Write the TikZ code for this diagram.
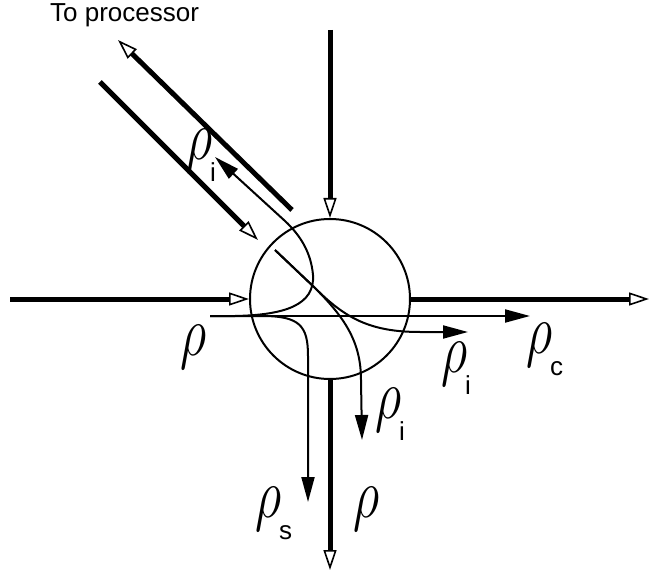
\documentclass[tikz,border=0pt]{standalone}
\usepackage{fontspec}
\setmainfont{Liberation Sans}
\usepackage{graphicx}
\usetikzlibrary{arrows.meta}
\newcommand{\rhoglyph}{\resizebox*{26pt}{44pt}{$\rho$}}
\newcommand{\rhosub}[1]{\rhoglyph\kern-2pt\raisebox{-22pt}{#1}}

\begin{document}
\begin{tikzpicture}[x=1pt,y=-1pt,
    font=\fontsize{26}{28}\selectfont,
    feed/.style={line width=5pt,
      -{Triangle[open,length=20pt,width=13pt,line width=1.6pt]}},
    flow/.style={line width=2pt,
      -{Triangle[length=25pt,width=13pt]}},
    lab/.style={anchor=base west,inner sep=0pt}]
  \useasboundingbox (0,0) rectangle (651,575);
  \node[draw,circle,line width=2pt,minimum size=160pt,inner sep=0pt] (cell) at (330,299) {};
  \coordinate (lin) at (10,299);
  \coordinate (top) at (330,30);
  \coordinate (rout) at (649,299);
  \coordinate (bot) at (330,570);
  \coordinate (din) at (100,82);
  \coordinate (dtip) at (258,240);
  \coordinate (pstart) at (292,210);
  \coordinate (ptip) at (118,40);
  \draw[feed] (lin) -- (cell.west);
  \draw[feed] (top) -- (cell.north);
  \draw[feed] (cell.east) -- (rout);
  \draw[feed] (cell.south) -- (bot);
  \draw[feed] (din) -- (dtip);
  \draw[feed] (pstart) -- (ptip);
  \node[anchor=base west,inner sep=0pt] (tproc) at (50,22) {To processor};
  % incoming stream and its parts
  \coordinate (rin) at (210,316);
  \coordinate (cend) at (530,316);
  \coordinate (iup) at (215,157);
  \coordinate (send) at (308,502);
  \coordinate (dstart) at (275,250);
  \coordinate (iright) at (468,332);
  \coordinate (idown) at (362,440);
  \draw[flow] (rin) -- (cend);
  \draw[flow] (rin) -- (235,316) .. controls (285,315) and (315,305) .. (313,275)
    .. controls (311,252) and (300,235) .. (285,221) -- (iup);
  \draw[flow] (rin) -- (262,316) .. controls (300,316) and (308,326) .. (308,356) -- (send);
  \draw[flow] (dstart) -- (315,288) .. controls (345,318) and (370,332) .. (420,332) -- (iright);
  \draw[flow] (dstart) -- (315,288) .. controls (345,318) and (361,342) .. (361,380) -- (idown);
  \node[lab] (rhoin) at (180,355) {\rhoglyph};
  \node[lab] (rhoiu) at (186,160) {\rhosub{i}};
  \node[lab] (rhoir) at (441,372) {\rhosub{i}};
  \node[lab] (rhoc) at (526,353) {\rhosub{c}};
  \node[lab] (rhoil) at (375,418) {\rhosub{i}};
  \node[lab] (rhos) at (255,517) {\rhosub{s}};
  \node[lab] (rhoout) at (353,517) {\rhoglyph};
\end{tikzpicture}
\end{document}
